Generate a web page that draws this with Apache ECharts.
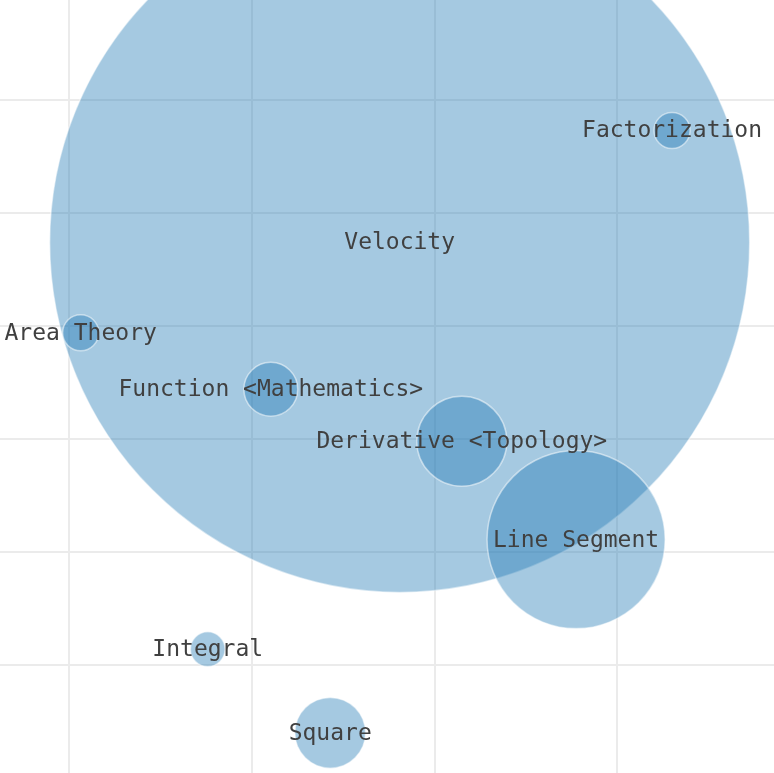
<!DOCTYPE html>
<html>
<head>
<meta charset="utf-8">
<style>
  html, body { margin: 0; padding: 0; background: #ffffff; }
  #chart { width: 774px; height: 773px; }
</style>
<script src="https://cdn.jsdelivr.net/npm/echarts@6/dist/echarts.min.js"></script>
</head>
<body>
<div id="chart"></div>
<script>
const names = ['Velocity', 'Factorization', 'Area Theory', 'Function <Mathematics>', 'Derivative <Topology>', 'Line Segment', 'Integral', 'Square'];
const xValues = [56.2, 86.0, 21.3, 42.1, 63.0, 75.5, 35.2, 48.6];
const yValues = [47.4, 57.3, 39.4, 34.4, 29.8, 21.1, 11.4, 4.0];
const weights = [4900, 13, 13, 29, 81, 317, 12, 50];

const data = names.map((n, i) => ({ name: n, value: [xValues[i], yValues[i], weights[i]] }));

const chart = echarts.init(document.getElementById('chart'), null, { renderer: 'canvas' });
chart.setOption({
  animation: false,
  backgroundColor: '#ffffff',
  grid: { left: -114, top: -13, width: 914, height: 791, containLabel: false, outerBoundsMode: 'none' },
  xAxis: {
    type: 'value', min: 0, max: 100, interval: 20,
    axisLine: { show: false }, axisTick: { show: false }, axisLabel: { show: false },
    splitLine: { show: true, lineStyle: { color: '#ebebeb', width: 2 } }
  },
  yAxis: {
    type: 'value', min: 0, max: 70, interval: 10,
    axisLine: { show: false }, axisTick: { show: false }, axisLabel: { show: false },
    splitLine: { show: true, lineStyle: { color: '#ebebeb', width: 2 } }
  },
  series: [{
    type: 'scatter',
    data: data,
    symbolSize: v => 10 * Math.sqrt(v[2]),
    itemStyle: { color: 'rgba(31,119,180,0.4)', borderColor: 'rgba(255,255,255,0.5)', borderWidth: 1.5, opacity: 1 },
    label: {
      show: true, position: 'inside',
      formatter: p => p.name,
      fontFamily: 'DejaVu Sans Mono', fontSize: 23, color: '#404040',
      offset: [0, 1]
    },
    emphasis: { disabled: true }
  }]
});
</script>
</body>
</html>
